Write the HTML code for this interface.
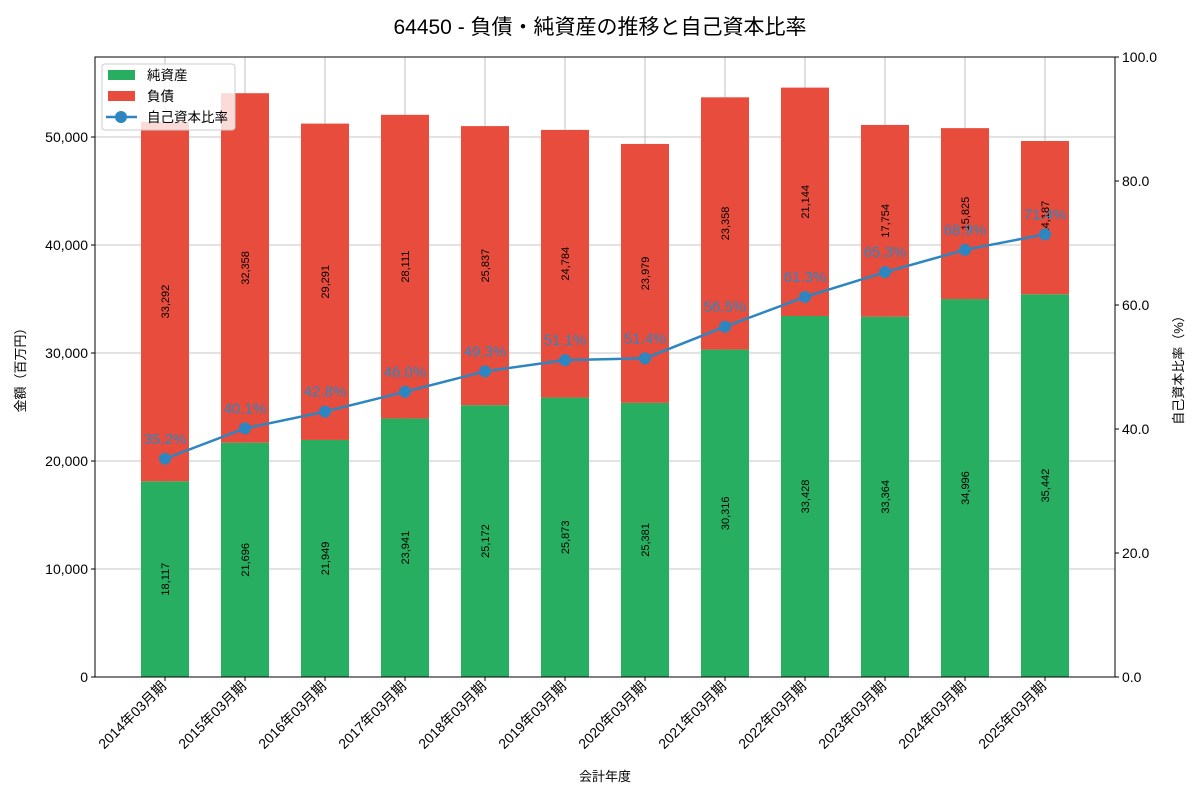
<!DOCTYPE html>
<html><head><meta charset="utf-8">
<style>
body{margin:0;background:#fff;}
svg{display:block;font-family:"Liberation Sans","Noto Sans CJK JP",sans-serif;}
</style></head>
<body>
<svg id="chart" width="1200" height="800" viewBox="0 0 1200 800"></svg>
<script>
const categories=["2014年03月期","2015年03月期","2016年03月期","2017年03月期","2018年03月期","2019年03月期","2020年03月期","2021年03月期","2022年03月期","2023年03月期","2024年03月期","2025年03月期"];
const netAssets=[18117,21696,21949,23941,25172,25873,25381,30316,33428,33364,34996,35442];
const liabilities=[33292,32358,29291,28111,25837,24784,23979,23358,21144,17754,15825,14187];
const equityRatio=[35.2,40.1,42.8,46.0,49.3,51.1,51.4,56.5,61.3,65.3,68.9,71.4];
const leftTicks=[0,10000,20000,30000,40000,50000];
const rightTicks=[0,20,40,60,80,100];

const NS="http://www.w3.org/2000/svg";
const svg=document.getElementById('chart');
const L=95,R=1115,T=57,B=677;
const leftMax=(B-T)/540*50000;
function xs(i){return 165+80*i;}
function yl(v){return B-v/leftMax*(B-T);}
function yr(v){return B-v/100*(B-T);}
function mk(tag,attrs,parent){const e=document.createElementNS(NS,tag);for(const k in attrs)e.setAttribute(k,attrs[k]);(parent||svg).appendChild(e);return e;}
function fmt(v){return v.toLocaleString('en-US');}

let t=mk('text',{x:600,y:34,'text-anchor':'middle','font-size':21,fill:'#000'});
t.textContent='64450 - 負債・純資産の推移と自己資本比率';



const grid=mk('g',{});


leftTicks.forEach(v=>{mk('line',{x1:L,x2:R,y1:yl(v),y2:yl(v),stroke:'#b0b0b0','stroke-width':0.8},grid);});
categories.forEach((c,i)=>{mk('line',{x1:xs(i),x2:xs(i),y1:T,y2:B,stroke:'#b0b0b0','stroke-width':0.8},grid);});

const bars=mk('g',{});


categories.forEach((c,i)=>{
  const x=xs(i)-24;
  let r=mk('rect',{x:x,y:yl(netAssets[i]),width:48,height:B-yl(netAssets[i]),fill:'#27ae60'},bars);
  
  
  const top=netAssets[i]+liabilities[i];
  r=mk('rect',{x:x,y:yl(top),width:48,height:yl(netAssets[i])-yl(top),fill:'#e74c3c'},bars);
  
  
  let ym=(yl(0)+yl(netAssets[i]))/2;
  let lb=mk('text',{x:0,y:0,transform:`translate(${xs(i)+4},${ym}) rotate(-90)`,'text-anchor':'middle','font-size':11,fill:'#000'},bars);
  lb.textContent=fmt(netAssets[i]);
  
  
  ym=(yl(netAssets[i])+yl(top))/2;
  lb=mk('text',{x:0,y:0,transform:`translate(${xs(i)+4},${ym}) rotate(-90)`,'text-anchor':'middle','font-size':11,fill:'#000'},bars);
  lb.textContent=fmt(liabilities[i]);
  
  
});

const lg=mk('g',{});


mk('polyline',{points:equityRatio.map((v,i)=>xs(i)+','+yr(v)).join(' '),fill:'none',stroke:'#2e86c1','stroke-width':2.5},lg);
equityRatio.forEach((v,i)=>{
  const c=mk('circle',{cx:xs(i),cy:yr(v),r:6,fill:'#2e86c1'},lg);
  
  
  const tx=mk('text',{x:xs(i),y:yr(v)-15,'text-anchor':'middle','font-size':15,fill:'#2e86c1'},lg);
  tx.textContent=v.toFixed(1)+'%';
  
  
});

const fr=mk('rect',{x:L,y:T,width:R-L,height:B-T,fill:'none',stroke:'#000','stroke-width':1});



const la=mk('g',{});


leftTicks.forEach(v=>{
  mk('line',{x1:L-4,x2:L,y1:yl(v),y2:yl(v),stroke:'#000'},la);
  const tx=mk('text',{x:L-7,y:yl(v)+5,'text-anchor':'end','font-size':14},la);
  tx.textContent=fmt(v);
});
t=mk('text',{x:0,y:0,transform:`translate(25,${(T+B)/2}) rotate(-90)`,'text-anchor':'middle','font-size':13});
t.textContent='金額（百万円）';



const ra=mk('g',{});


rightTicks.forEach(v=>{
  mk('line',{x1:R,x2:R+4,y1:yr(v),y2:yr(v),stroke:'#000'},ra);
  const tx=mk('text',{x:R+7,y:yr(v)+5,'font-size':14},ra);
  tx.textContent=v.toFixed(1);
});
t=mk('text',{x:0,y:0,transform:`translate(1183,${(T+B)/2}) rotate(-90)`,'text-anchor':'middle','font-size':13});
t.textContent='自己資本比率（%）';



const xa=mk('g',{});


categories.forEach((c,i)=>{
  mk('line',{x1:xs(i),x2:xs(i),y1:B,y2:B+4,stroke:'#000'},xa);
  const tx=mk('text',{x:0,y:0,transform:`translate(${xs(i)+2},${B+10}) rotate(-45)`,'text-anchor':'end','font-size':14},xa);
  tx.textContent=c;
});
t=mk('text',{x:605,y:781,'text-anchor':'middle','font-size':13});
t.textContent='会計年度';



const lgd=mk('g',{});


mk('rect',{x:102,y:64,width:133,height:66,rx:3,fill:'#fff','fill-opacity':0.8,stroke:'#ccc'},lgd);
const items=[['純資産','#27ae60','rect'],['負債','#e74c3c','rect'],['自己資本比率','#2e86c1','line']];
items.forEach((it,k)=>{
  const y=75+k*21;
  const g=mk('g',{},lgd);
  
  
  if(it[2]==='rect') mk('rect',{x:108,y:y-5,width:27,height:10,fill:it[1]},g);
  else {mk('line',{x1:106,x2:137,y1:y,y2:y,stroke:it[1],'stroke-width':2.5},g);mk('circle',{cx:121,cy:y,r:6,fill:it[1]},g);}
  const tx=mk('text',{x:147,y:y+5,'font-size':13.5},g);
  tx.textContent=it[0];
});
</script>
</body></html>
